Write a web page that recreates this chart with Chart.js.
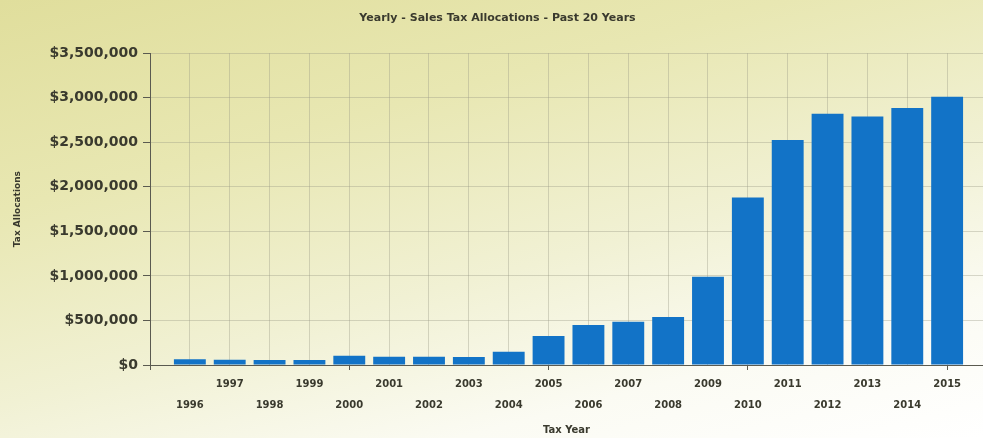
<!DOCTYPE html>
<html>
<head>
<meta charset="utf-8">
<title>Yearly - Sales Tax Allocations</title>
<script src="https://cdn.jsdelivr.net/npm/chart.js@4/dist/chart.umd.min.js"></script>
<style>
  html, body { margin: 0; padding: 0; }
  body {
    width: 983px; height: 438px; overflow: hidden;
    background: linear-gradient(165deg, #e0de9c 0%, #e8e7b2 30%, #f1f1d4 58%, #fbfbf3 80%, #ffffff 100%);
  }
  canvas { display: block; }
</style>
</head>
<body>
<canvas id="taxChart" width="983" height="438"></canvas>
<script>
// tax years and yearly allocations
const years = [1996, 1997, 1998, 1999, 2000, 2001, 2002, 2003, 2004, 2005,
               2006, 2007, 2008, 2009, 2010, 2011, 2012, 2013, 2014, 2015];
const allocations = [65000, 60000, 55000, 55000, 105000, 93000, 92000, 90000, 150000, 325000,
                     450000, 485000, 540000, 990000, 1880000, 2525000, 2820000, 2790000, 2885000, 3010000];
const yTicks = [0, 500000, 1000000, 1500000, 2000000, 2500000, 3000000, 3500000];

const textColor = '#3a3a2e';
const gridColor = 'rgba(150, 150, 130, 0.36)';
const axisColor = '#5a5a50';

const ctx = document.getElementById('taxChart').getContext('2d');
const chart = new Chart(ctx, {
  type: 'bar',
  data: {
    datasets: [{
      label: 'Tax Allocations',
      data: years.map((yr, i) => ({ x: yr, y: allocations[i] })),
      backgroundColor: '#1273c7',
      borderWidth: 0,
      categoryPercentage: 1,
      barPercentage: 0.8
    }]
  },
  options: {
    responsive: false,
    animation: false,
    layout: { padding: { left: 12, right: 0, top: 10, bottom: 2 } },
    plugins: {
      legend: { display: false },
      tooltip: { enabled: false },
      title: {
        display: true,
        text: 'Yearly - Sales Tax Allocations - Past 20 Years',
        color: textColor,
        font: { family: 'DejaVu Sans', size: 11, weight: 'bold' },
        padding: { top: 2, bottom: 28 }
      }
    },
    scales: {
      x: {
        type: 'linear',
        min: 1995,
        max: 2015.9,
        offset: false,
        grid: {
          offset: false,
          color: gridColor,
          drawTicks: true,
          tickLength: 5,
          // only every fifth year gets a tick mark below the axis
          tickColor: (c) => (c.tick && c.tick.value % 5 === 0 ? axisColor : 'rgba(0,0,0,0)')
        },
        border: { color: axisColor, width: 1 },
        ticks: {
          stepSize: 1,
          includeBounds: false,
          autoSkip: false,
          maxRotation: 0,
          color: textColor,
          font: { family: 'DejaVu Sans', size: 10, weight: 'bold', lineHeight: 2.1 },
          padding: 4,
          // odd years on the first row, even years on the second
          callback: (v) => {
            if (!years.includes(v)) return '';
            return v % 2 === 1 ? [String(v), ''] : ['', String(v)];
          }
        },
        title: {
          display: true,
          text: 'Tax Year',
          color: textColor,
          font: { family: 'DejaVu Sans', size: 10, weight: 'bold' },
          padding: { top: 0, bottom: 0 }
        },
        afterFit: (s) => { s.height = 71; }
      },
      y: {
        min: 0,
        max: 3500000,
        afterBuildTicks: (s) => { s.ticks = yTicks.map(v => ({ value: v })); },
        grid: {
          color: gridColor,
          tickLength: 7,
          tickColor: axisColor
        },
        border: { color: axisColor, width: 1 },
        ticks: {
          color: textColor,
          font: { family: 'DejaVu Sans', size: 14, weight: 'bold' },
          padding: 5,
          callback: (v) => '$' + v.toLocaleString('en-US')
        },
        title: {
          display: true,
          text: 'Tax Allocations',
          color: textColor,
          font: { family: 'DejaVu Sans', size: 9, weight: 'bold' },
          padding: { top: 0, bottom: 4 }
        },
        afterFit: (s) => { s.width = 138; }
      }
    }
  }
});
</script>
</body>
</html>
